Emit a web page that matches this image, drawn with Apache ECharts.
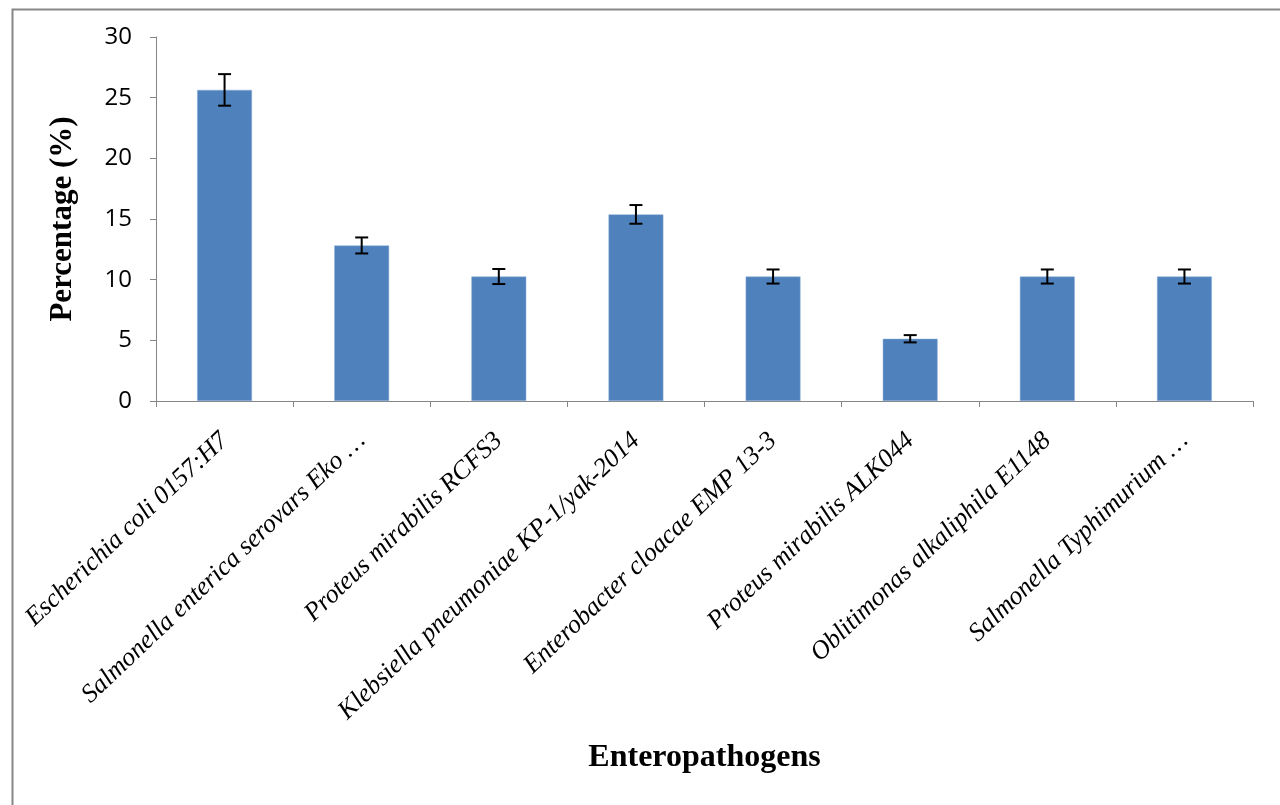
<!DOCTYPE html>
<html>
<head>
<meta charset="utf-8">
<script src="https://cdn.jsdelivr.net/npm/echarts@6/dist/echarts.min.js"></script>
<style>
html,body{margin:0;padding:0;background:#fff;}
#chart{width:1280px;height:805px;}
</style>
</head>
<body>
<div id="chart"></div>
<script>
const categories = [
  'Escherichia coli 0157:H7',
  'Salmonella enterica serovars Eko …',
  'Proteus mirabilis RCFS3',
  'Klebsiella pneumoniae KP-1/yak-2014',
  'Enterobacter cloacae EMP 13-3',
  'Proteus mirabilis ALK044',
  'Oblitimonas alkaliphila E1148',
  'Salmonella Typhimurium …'
];
const values = [25.64, 12.82, 10.26, 15.38, 10.26, 5.13, 10.26, 10.26];
const errors = [1.3, 0.66, 0.62, 0.77, 0.58, 0.3, 0.58, 0.58];
const yTicks = [0, 5, 10, 15, 20, 25, 30];

const chart = echarts.init(document.getElementById('chart'));
const errData = values.map((v, i) => [i, v - errors[i], v + errors[i]]);

chart.setOption({
  animation: false,
  backgroundColor: '#fff',
  grid: {left: 156, right: 27, top: 37, bottom: 404, containLabel: false},
  graphic: [{
    type: 'rect', left: 10, top: 7, z: -10,
    shape: {x: 0, y: 0, width: 1300, height: 900},
    style: {fill: 'none', stroke: '#878787', lineWidth: 2}
  }],
  xAxis: {
    type: 'category',
    data: categories,
    boundaryGap: true,
    axisLine: {lineStyle: {color: '#868686', width: 1}},
    axisTick: {show: true, length: 6, lineStyle: {color: '#868686'}},
    axisLabel: {
      interval: 0, rotate: 43.5, margin: 36,
      fontFamily: 'Liberation Serif', fontStyle: 'italic', fontSize: 26, color: '#000'
    },
    name: 'Enteropathogens',
    nameLocation: 'middle',
    nameGap: 341,
    nameTextStyle: {fontFamily: 'Liberation Serif', fontWeight: 'bold', fontSize: 32, color: '#000'}
  },
  yAxis: {
    type: 'value',
    min: yTicks[0], max: yTicks[yTicks.length - 1], interval: 5,
    axisLine: {show: true, lineStyle: {color: '#868686', width: 1}},
    axisTick: {show: true, length: 6, lineStyle: {color: '#868686'}},
    splitLine: {show: false},
    axisLabel: {fontFamily: 'Open Sans', fontSize: 24, color: '#000', margin: 24},
    name: 'Percentage (%)',
    nameLocation: 'middle',
    nameGap: 78,
    nameTextStyle: {fontFamily: 'Liberation Serif', fontWeight: 'bold', fontSize: 31, color: '#000'}
  },
  series: [{
    type: 'bar',
    data: values,
    barWidth: '40%',
    itemStyle: {color: '#4F81BD', borderColor: '#8EB0DA', borderWidth: 0.5}
  }, {
    type: 'custom',
    data: errData,
    z: 10,
    renderItem: function (params, api) {
      const x = api.coord([api.value(0), 0])[0];
      const lo = api.coord([api.value(0), api.value(1)])[1];
      const hi = api.coord([api.value(0), api.value(2)])[1];
      const hw = 6.5;
      const st = {stroke: '#000', lineWidth: 2};
      return {
        type: 'group',
        children: [
          {type: 'line', shape: {x1: x, y1: lo, x2: x, y2: hi}, style: st},
          {type: 'line', shape: {x1: x - hw, y1: lo, x2: x + hw, y2: lo}, style: st},
          {type: 'line', shape: {x1: x - hw, y1: hi, x2: x + hw, y2: hi}, style: st}
        ]
      };
    }
  }]
});
</script>
</body>
</html>
